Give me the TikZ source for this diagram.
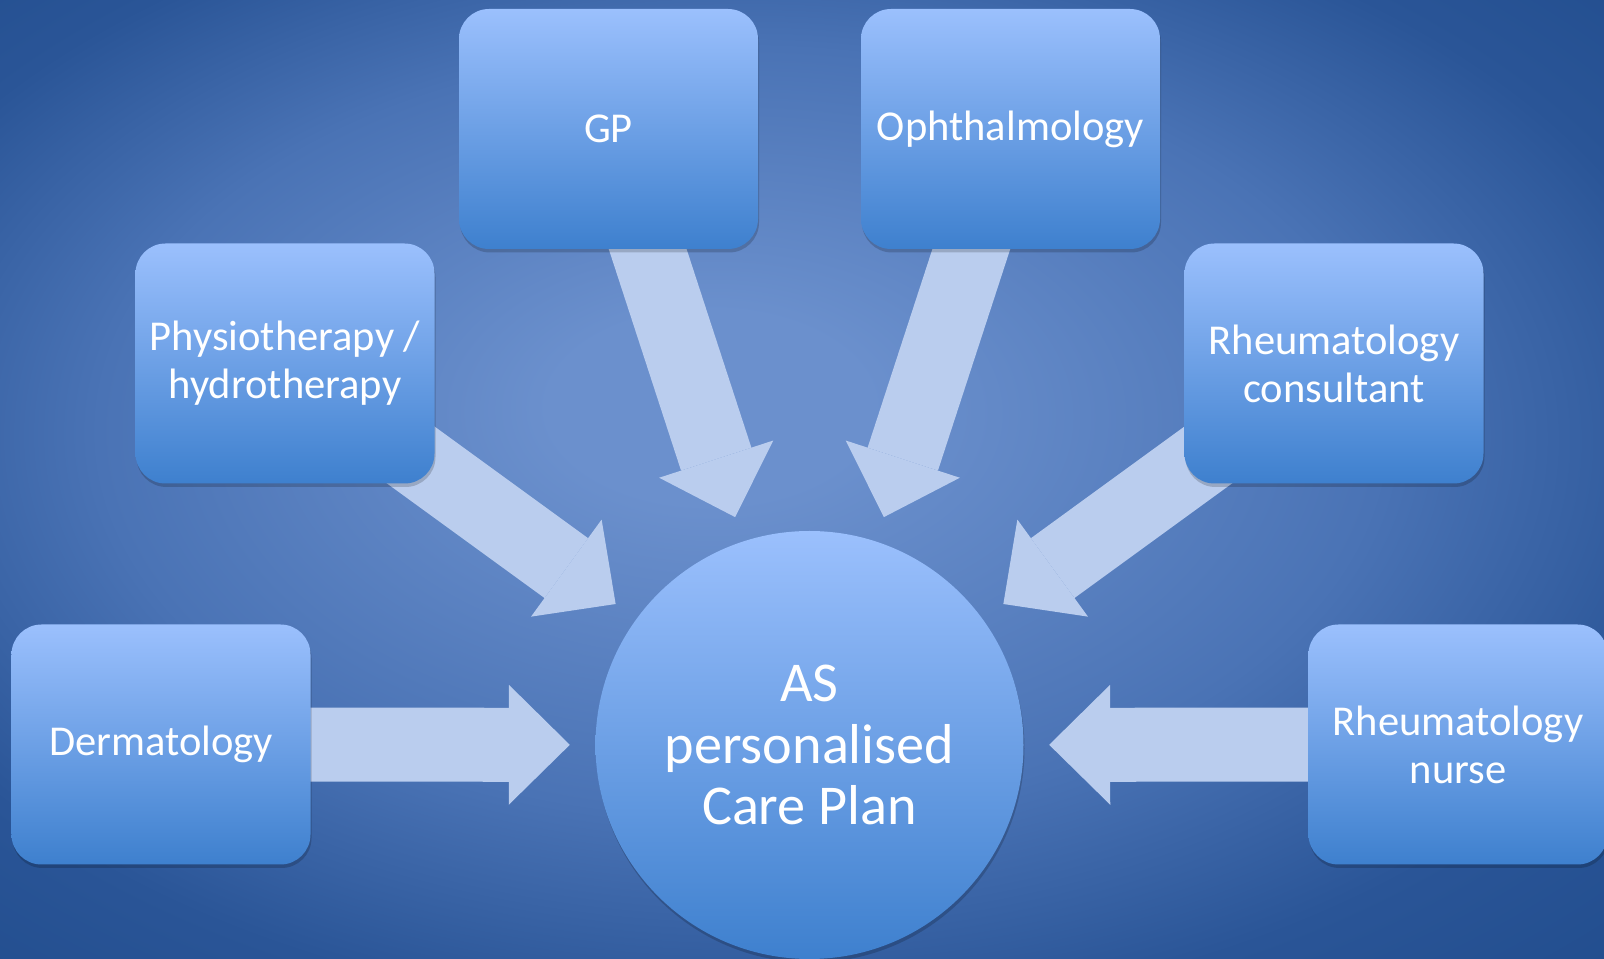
\documentclass[tikz,border=0pt]{standalone}
\usepackage{fontspec}
\setmainfont{Carlito}
\usepackage{xcolor}
\usepackage{tikz}
\usetikzlibrary{arrows.meta, shadows}
\definecolor{bgin}{HTML}{6B90CD}
\definecolor{bgmid}{HTML}{4A73B5}
\definecolor{bgout}{HTML}{2A5597}
\definecolor{bgedge}{HTML}{1E4A8A}
\definecolor{boxtop}{HTML}{9BC0FD}
\definecolor{boxmid}{HTML}{7FA8EA}
\definecolor{boxbot}{HTML}{3E80CE}
\definecolor{feedfill}{HTML}{BACDEE}
\pgfdeclareradialshading{slidebg}{\pgfpoint{-3.2bp}{4.2bp}}{color(0bp)=(bgin); color(5bp)=(bgin); color(20bp)=(bgmid); color(30bp)=(bgout); color(41bp)=(bgedge); color(50bp)=(bgedge)}
\pgfdeclarelayer{backdrop}
\pgfdeclarelayer{links}
\pgfsetlayers{backdrop,links,main}
\tikzset{
  carebox/.style={rectangle, rounded corners=0.3cm, minimum width=2.99cm, minimum height=2.4cm, inner sep=0pt, top color=boxtop, middle color=boxmid, bottom color=boxbot, text=white, align=center, font=\fontsize{12.1}{13.6}\selectfont, drop shadow={shadow xshift=0.01cm, shadow yshift=-0.035cm, opacity=0.18, fill=black}},
  plancircle/.style={circle, minimum size=4.28cm, inner sep=0pt, top color=boxtop, middle color=boxmid, bottom color=boxbot, text=white, align=center, font=\fontsize{16}{17.6}\selectfont, drop shadow={shadow xshift=0.01cm, shadow yshift=-0.035cm, opacity=0.18, fill=black}},
  feed/.style={line width=0.74cm, color=feedfill, -{Triangle[width=1.2cm, length=0.61cm, line width=0pt]}, shorten >=0.25cm}
}

\begin{document}
\begin{tikzpicture}
  % Slide background
  \useasboundingbox (0,0) rectangle (16.04,-9.59);
  \clip (0,0) rectangle (16.04,-9.59);
  \begin{pgfonlayer}{backdrop}
    \shade[shading=slidebg] (0,0) rectangle (16.04,-9.59);
  \end{pgfonlayer}

  % Care plan and contributors
  \node[plancircle] (plan) at (8.095,-7.45) {AS\\personalised\\Care Plan};
  \node[carebox] (gp) at (6.085,-1.29) {GP};
  \node[carebox] (oph) at (10.105,-1.29) {Ophthalmology};
  \node[carebox] (physio) at (2.85,-3.635) {Physiotherapy /\\hydrotherapy};
  \node[carebox] (rcons) at (13.34,-3.635) {Rheumatology\\consultant};
  \node[carebox] (derm) at (1.61,-7.445) {Dermatology};
  \node[carebox] (rnurse) at (14.58,-7.445) {Rheumatology\\nurse};

  % Block arrows into the plan
  \begin{pgfonlayer}{links}
    \draw[feed] (gp.center) -- (plan);
    \draw[feed] (oph.center) -- (plan);
    \draw[feed] (physio.center) -- (plan);
    \draw[feed] (rcons.center) -- (plan);
    \draw[feed] (derm.center) -- (plan);
    \draw[feed] (rnurse.center) -- (plan);
  \end{pgfonlayer}
\end{tikzpicture}
\end{document}
